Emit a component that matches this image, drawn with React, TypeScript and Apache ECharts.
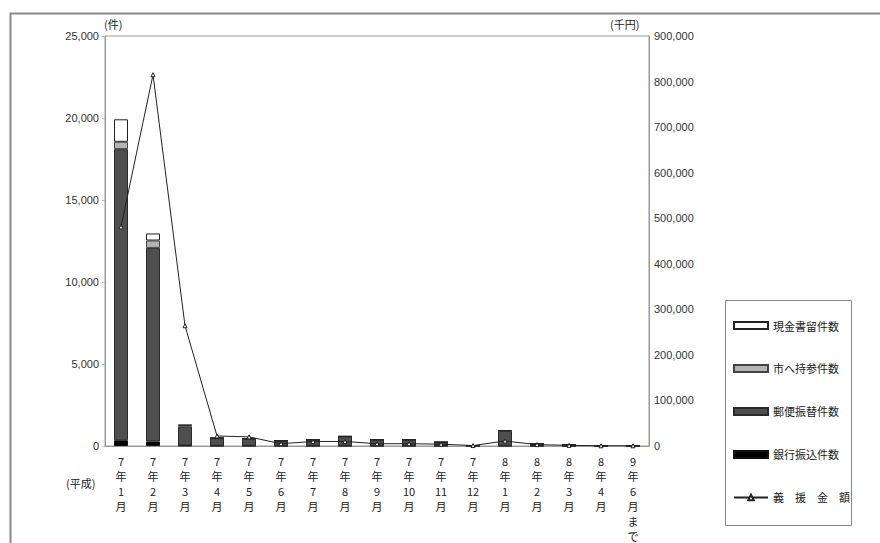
import React, { useEffect, useRef } from "react";
import * as echarts from "echarts";

const categories = [
  "7年1月", "7年2月", "7年3月", "7年4月", "7年5月", "7年6月", "7年7月", "7年8月",
  "7年9月", "7年10月", "7年11月", "7年12月", "8年1月", "8年2月", "8年3月", "8年4月", "9年6月まで",
];
const cashRegistered = [1370, 430, 30, 10, 10, 5, 5, 10, 5, 5, 5, 0, 20, 5, 0, 0, 0];
const broughtToCity = [450, 450, 80, 10, 10, 5, 5, 10, 5, 5, 5, 0, 20, 5, 0, 0, 0];
const postalTransfer = [17750, 11800, 1150, 460, 420, 300, 360, 560, 360, 360, 220, 10, 900, 120, 70, 10, 10];
const bankTransfer = [350, 280, 30, 15, 15, 10, 10, 15, 10, 10, 10, 5, 15, 5, 5, 0, 0];
const donationAmount = [481000, 815000, 264000, 22000, 20000, 5000, 10000, 10000, 5000, 5000, 4000, 1000, 11000, 3000, 1500, 500, 500];

const leftTicks = { min: 0, max: 25000, interval: 5000 };
const rightTicks = { min: 0, max: 900000, interval: 100000 };

const FONT = "'Noto Sans CJK JP', 'Liberation Sans', sans-serif";

export default function App() {
  const ref = useRef<HTMLDivElement>(null);
  useEffect(() => {
    if (!ref.current) return;
    const chart = echarts.init(ref.current, null, { renderer: "svg" });
    const barBase = {
      type: "bar",
      stack: "count",
      yAxisIndex: 0,
      barWidth: 14,
    };
    chart.setOption({
      animation: false,
      backgroundColor: "#ffffff",
      textStyle: { fontFamily: FONT },
      grid: { left: 105, right: 231, top: 36, bottom: 94, show: true, borderColor: "#999", borderWidth: 1 },
      legend: {
        orient: "vertical",
        left: 728,
        top: 315,
        itemWidth: 34,
        itemHeight: 7,
        itemGap: 32,
        textStyle: { fontSize: 11, color: "#222", fontFamily: FONT },
        data: [
          { name: "現金書留件数", icon: "rect" },
          { name: "市へ持参件数", icon: "rect" },
          { name: "郵便振替件数", icon: "rect" },
          { name: "銀行振込件数", icon: "rect" },
          { name: "義援金額" },
        ],
        formatter: (name: string) => (name === "義援金額" ? name.split("").join("\u2003") : name),
      },
      xAxis: {
        type: "category",
        data: categories,
        axisLine: { lineStyle: { color: "#999" } },
        axisTick: { show: false },
        axisLabel: {
          interval: 0,
          margin: 7,
          fontSize: 11,
          lineHeight: 15,
          color: "#222",
          fontFamily: FONT,
          formatter: (v: string) => (v.match(/\d+|./g) || []).join("\n"),
        },
      },
      yAxis: [
        {
          type: "value",
          position: "left",
          ...leftTicks,
          axisLine: { show: true, lineStyle: { color: "#999" } },
          axisTick: { show: true, length: 3, lineStyle: { color: "#bbb" } },
          splitLine: { show: false },
          axisLabel: {
            fontSize: 11,
            color: "#333",
            margin: 6,
            fontFamily: "'Liberation Sans', sans-serif",
            formatter: (v: number) => v.toLocaleString("en-US"),
          },
        },
        {
          type: "value",
          position: "right",
          ...rightTicks,
          axisLine: { show: true, lineStyle: { color: "#999" } },
          axisTick: { show: false },
          splitLine: { show: false },
          axisLabel: {
            fontSize: 11,
            color: "#333",
            margin: 5,
            fontFamily: "'Liberation Sans', sans-serif",
            formatter: (v: number) => v.toLocaleString("en-US"),
          },
        },
      ],
      series: [
        {
          ...barBase,
          name: "銀行振込件数",
          data: bankTransfer,
          itemStyle: { color: "#000000", borderColor: "#111", borderWidth: 1 },
        },
        {
          ...barBase,
          name: "郵便振替件数",
          data: postalTransfer,
          itemStyle: { color: "#4f4f4f", borderColor: "#2a2a2a", borderWidth: 1 },
        },
        {
          ...barBase,
          name: "市へ持参件数",
          data: broughtToCity,
          itemStyle: { color: "#b4b4b4", borderColor: "#444", borderWidth: 1 },
        },
        {
          ...barBase,
          name: "現金書留件数",
          data: cashRegistered,
          itemStyle: { color: "#ffffff", borderColor: "#222", borderWidth: 1 },
        },
        {
          type: "line",
          name: "義援金額",
          yAxisIndex: 1,
          data: donationAmount,
          symbol: "triangle",
          symbolSize: 4,
          lineStyle: { color: "#222", width: 1 },
          itemStyle: { color: "#ffffff", borderColor: "#222", borderWidth: 1 },
          z: 5,
        },
      ],
      graphic: [
        {
          type: "rect",
          left: 8,
          top: 11,
          shape: { x: 0, y: 0, width: 900, height: 600 },
          style: { fill: "none", stroke: "#8a8a8a", lineWidth: 2 },
          silent: true,
        },
        {
          type: "rect",
          left: 723,
          top: 298,
          shape: { x: 0, y: 0, width: 126, height: 225 },
          style: { fill: "none", stroke: "#888", lineWidth: 1 },
          silent: true,
        },
        {
          type: "text",
          left: 104,
          top: 18,
          style: { text: "(件)", fontSize: 11, fill: "#222", fontFamily: FONT },
        },
        {
          type: "text",
          left: 610,
          top: 18,
          style: { text: "(千円)", fontSize: 11, fill: "#222", fontFamily: FONT },
        },
        {
          type: "text",
          left: 66,
          top: 477,
          style: { text: "(平成)", fontSize: 11, fill: "#222", fontFamily: FONT },
        },
      ],
    });
    return () => chart.dispose();
  }, []);
  return <div ref={ref} style={{ width: 880, height: 543, position: "absolute", left: 0, top: 0 }} />;
}
